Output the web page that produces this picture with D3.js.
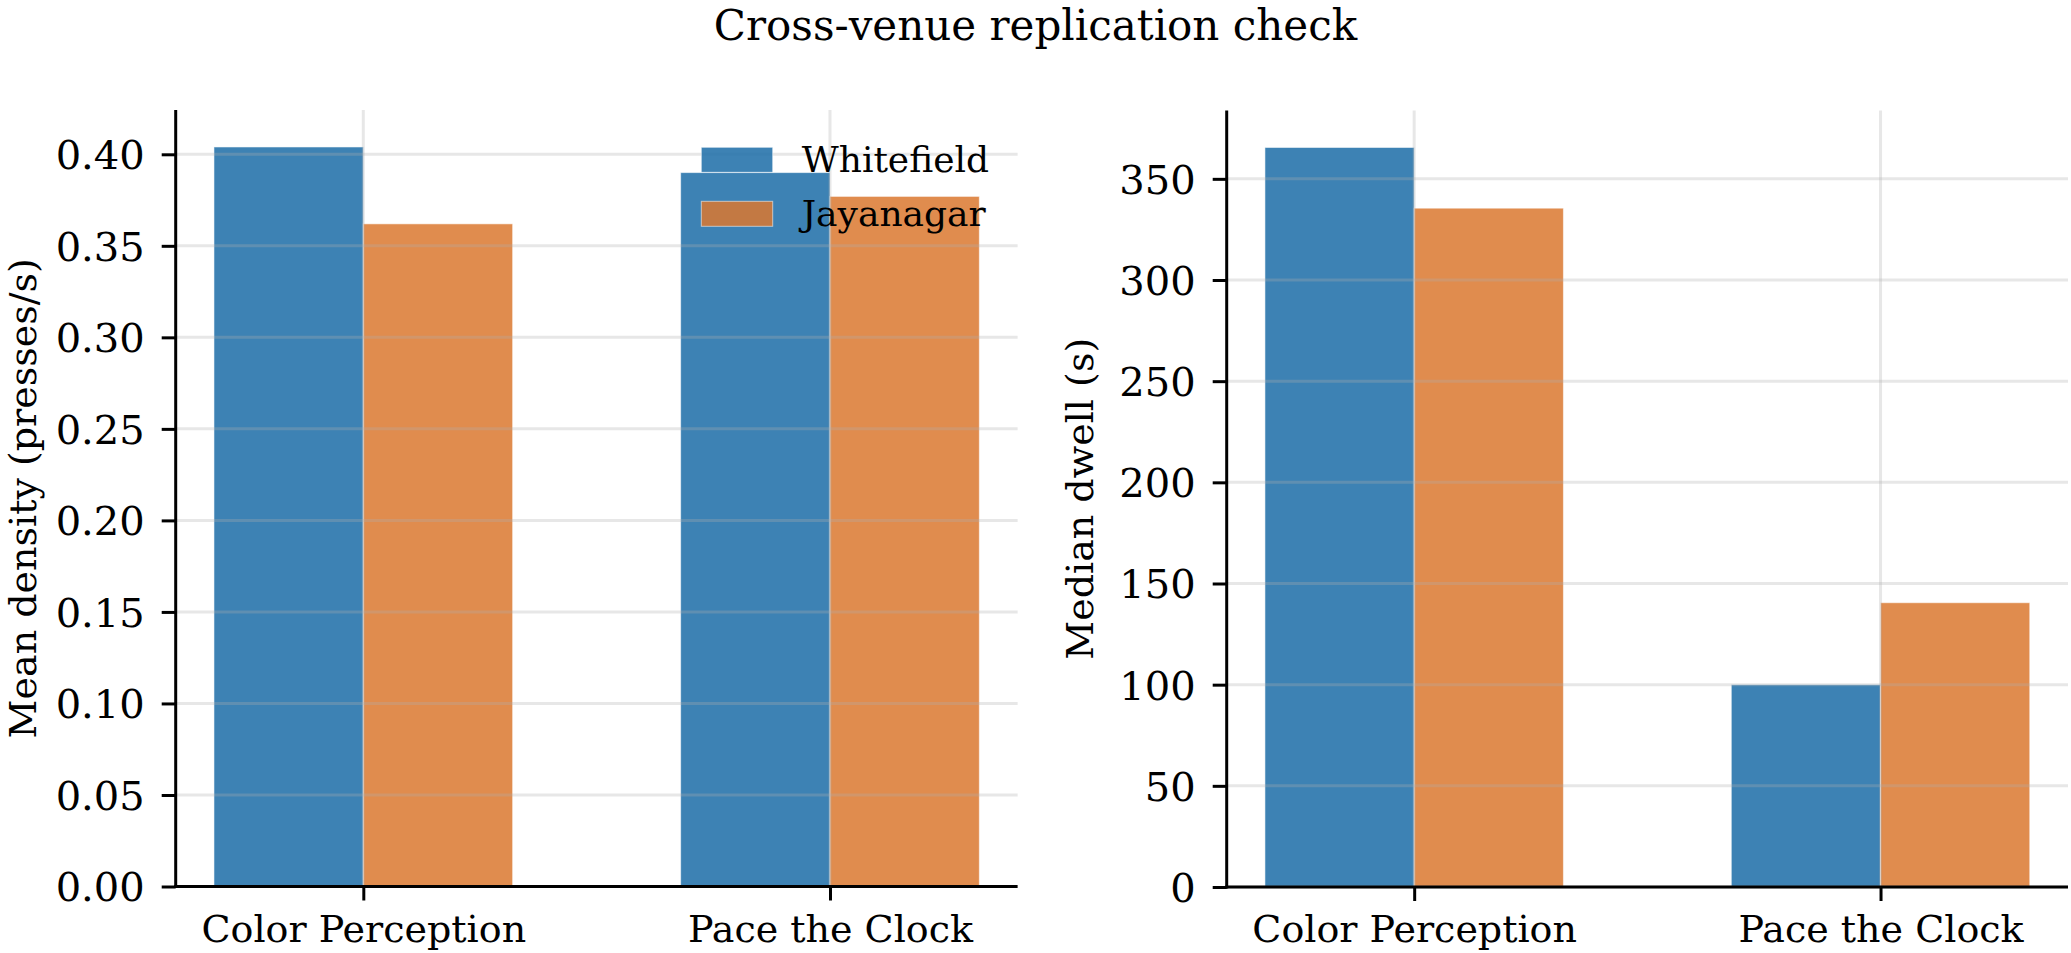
<!DOCTYPE html>
<html>
<head>
<meta charset="utf-8">
<script src="https://cdn.jsdelivr.net/npm/d3@7"></script>
<style>
  html, body { margin: 0; padding: 0; background: #ffffff; }
  svg { display: block; }
  text { font-family: "DejaVu Serif", serif; fill: #000; }
</style>
</head>
<body>
<svg id="chart" width="2071" height="953"></svg>
<script>
// ---- data ----
const title = "Cross-venue replication check";
const games = ["Color Perception", "Pace the Clock"];
const venues = ["Whitefield", "Jayanagar"];
const densityWhitefield = [0.404, 0.390];
const densityJayanagar = [0.362, 0.377];
const dwellWhitefield = [365.5, 100];
const dwellJayanagar = [335.5, 140.5];
const densityTicks = [0, 0.05, 0.10, 0.15, 0.20, 0.25, 0.30, 0.35, 0.40];
const dwellTicks = [0, 50, 100, 150, 200, 250, 300, 350];
const densityLabel = "Mean density (presses/s)";
const dwellLabel = "Median dwell (s)";

// ---- style ----
const venueBase = ["#1b6ca7", "#db782f"];
const barOpacity = 0.85;
const barWidth = 0.32;
const svg = d3.select("#chart");

svg.append("text")
  .attr("x", 1035.5).attr("y", 40)
  .attr("text-anchor", "middle")
  .style("font-size", "42px")
  .text(title);

function panel(opts) {
  const { left, right, top, bottom, series, ticks, fmt, ylabel, ylabelX, legend } = opts;
  const g = svg.append("g");
  const x = d3.scaleLinear()
    .domain([-barWidth - 0.082, (games.length - 1) + barWidth + 0.082])
    .range([left, right]);
  const maxV = d3.max(series.flat());
  const y = d3.scaleLinear().domain([0, maxV * 1.05]).range([bottom, top]);

  // bars
  series.forEach((vals, si) => {
    g.selectAll(null).data(vals).enter().append("rect")
      .attr("x", (d, i) => si === 0 ? x(i - barWidth) : x(i))
      .attr("width", x(barWidth) - x(0))
      .attr("y", d => y(d))
      .attr("height", d => y(0) - y(d))
      .attr("fill", venueBase[si])
      .attr("fill-opacity", barOpacity)
      .attr("stroke", "#ffffff")
      .attr("stroke-opacity", 0.55)
      .attr("stroke-width", 1);
  });

  // grid (drawn above bars as matplotlib does)
  const grid = g.append("g");
  grid.selectAll(null).data(ticks).enter().append("line")
    .attr("x1", left).attr("x2", right)
    .attr("y1", d => y(d)).attr("y2", d => y(d))
    .attr("stroke", "#b0b0b0").attr("stroke-opacity", 0.3).attr("stroke-width", 3);
  grid.selectAll(null).data(games.map((d, i) => i)).enter().append("line")
    .attr("x1", d => x(d)).attr("x2", d => x(d))
    .attr("y1", top).attr("y2", bottom)
    .attr("stroke", "#b0b0b0").attr("stroke-opacity", 0.3).attr("stroke-width", 3);

  // axes
  const yAxis = d3.axisLeft(y).tickValues(ticks).tickFormat(fmt).tickSize(14).tickPadding(17);
  const ya = g.append("g").attr("transform", `translate(${left},0)`).call(yAxis);
  ya.select(".domain").remove();
  ya.selectAll(".tick line").attr("stroke", "#000").attr("stroke-width", 3);
  ya.selectAll(".tick text").style("font-size", "40px").attr("font-family", "DejaVu Serif").attr("dy", "0.36em");

  const xAxis = d3.axisBottom(d3.scalePoint().domain(games).range([x(0), x(games.length - 1)]))
    .tickSize(14).tickPadding(0);
  const xa = g.append("g").attr("transform", `translate(0,${bottom})`).call(xAxis);
  xa.select(".domain").remove();
  xa.selectAll(".tick line").attr("stroke", "#000").attr("stroke-width", 3);
  xa.selectAll(".tick text").style("font-size", "38px").attr("font-family", "DejaVu Serif")
    .attr("y", 942 - bottom).attr("dy", 0);

  // spines
  g.append("line").attr("x1", left).attr("x2", left).attr("y1", top).attr("y2", bottom + 1.5)
    .attr("stroke", "#000").attr("stroke-width", 3);
  g.append("line").attr("x1", left - 1.5).attr("x2", right).attr("y1", bottom).attr("y2", bottom)
    .attr("stroke", "#000").attr("stroke-width", 3);

  // y label
  g.append("text")
    .attr("transform", `translate(${ylabelX},${(top + bottom) / 2}) rotate(-90)`)
    .attr("text-anchor", "middle")
    .style("font-size", "38px")
    .text(ylabel);

  if (legend) {
    const lg = g.append("g");
    venues.forEach((v, i) => {
      const yy = 147.3 + i * 54;
      lg.append("rect").attr("x", 701.3).attr("y", yy).attr("width", 71.4).attr("height", 25)
        .attr("fill", venueBase[i]).attr("fill-opacity", barOpacity)
        .attr("stroke", "#ffffff").attr("stroke-opacity", 0.55).attr("stroke-width", 1);
      lg.append("text").attr("x", 801.7).attr("y", yy + 25)
        .style("font-size", "36px").text(v);
    });
  }
}

panel({
  left: 175.7, right: 1017.6, top: 110, bottom: 886.5,
  series: [densityWhitefield, densityJayanagar],
  ticks: densityTicks, fmt: d3.format(".2f"),
  ylabel: densityLabel, ylabelX: 36, legend: true
});
panel({
  left: 1226.7, right: 2068, top: 110.5, bottom: 887,
  series: [dwellWhitefield, dwellJayanagar],
  ticks: dwellTicks, fmt: d3.format("d"),
  ylabel: dwellLabel, ylabelX: 1093, legend: false
});
</script>
</body>
</html>
